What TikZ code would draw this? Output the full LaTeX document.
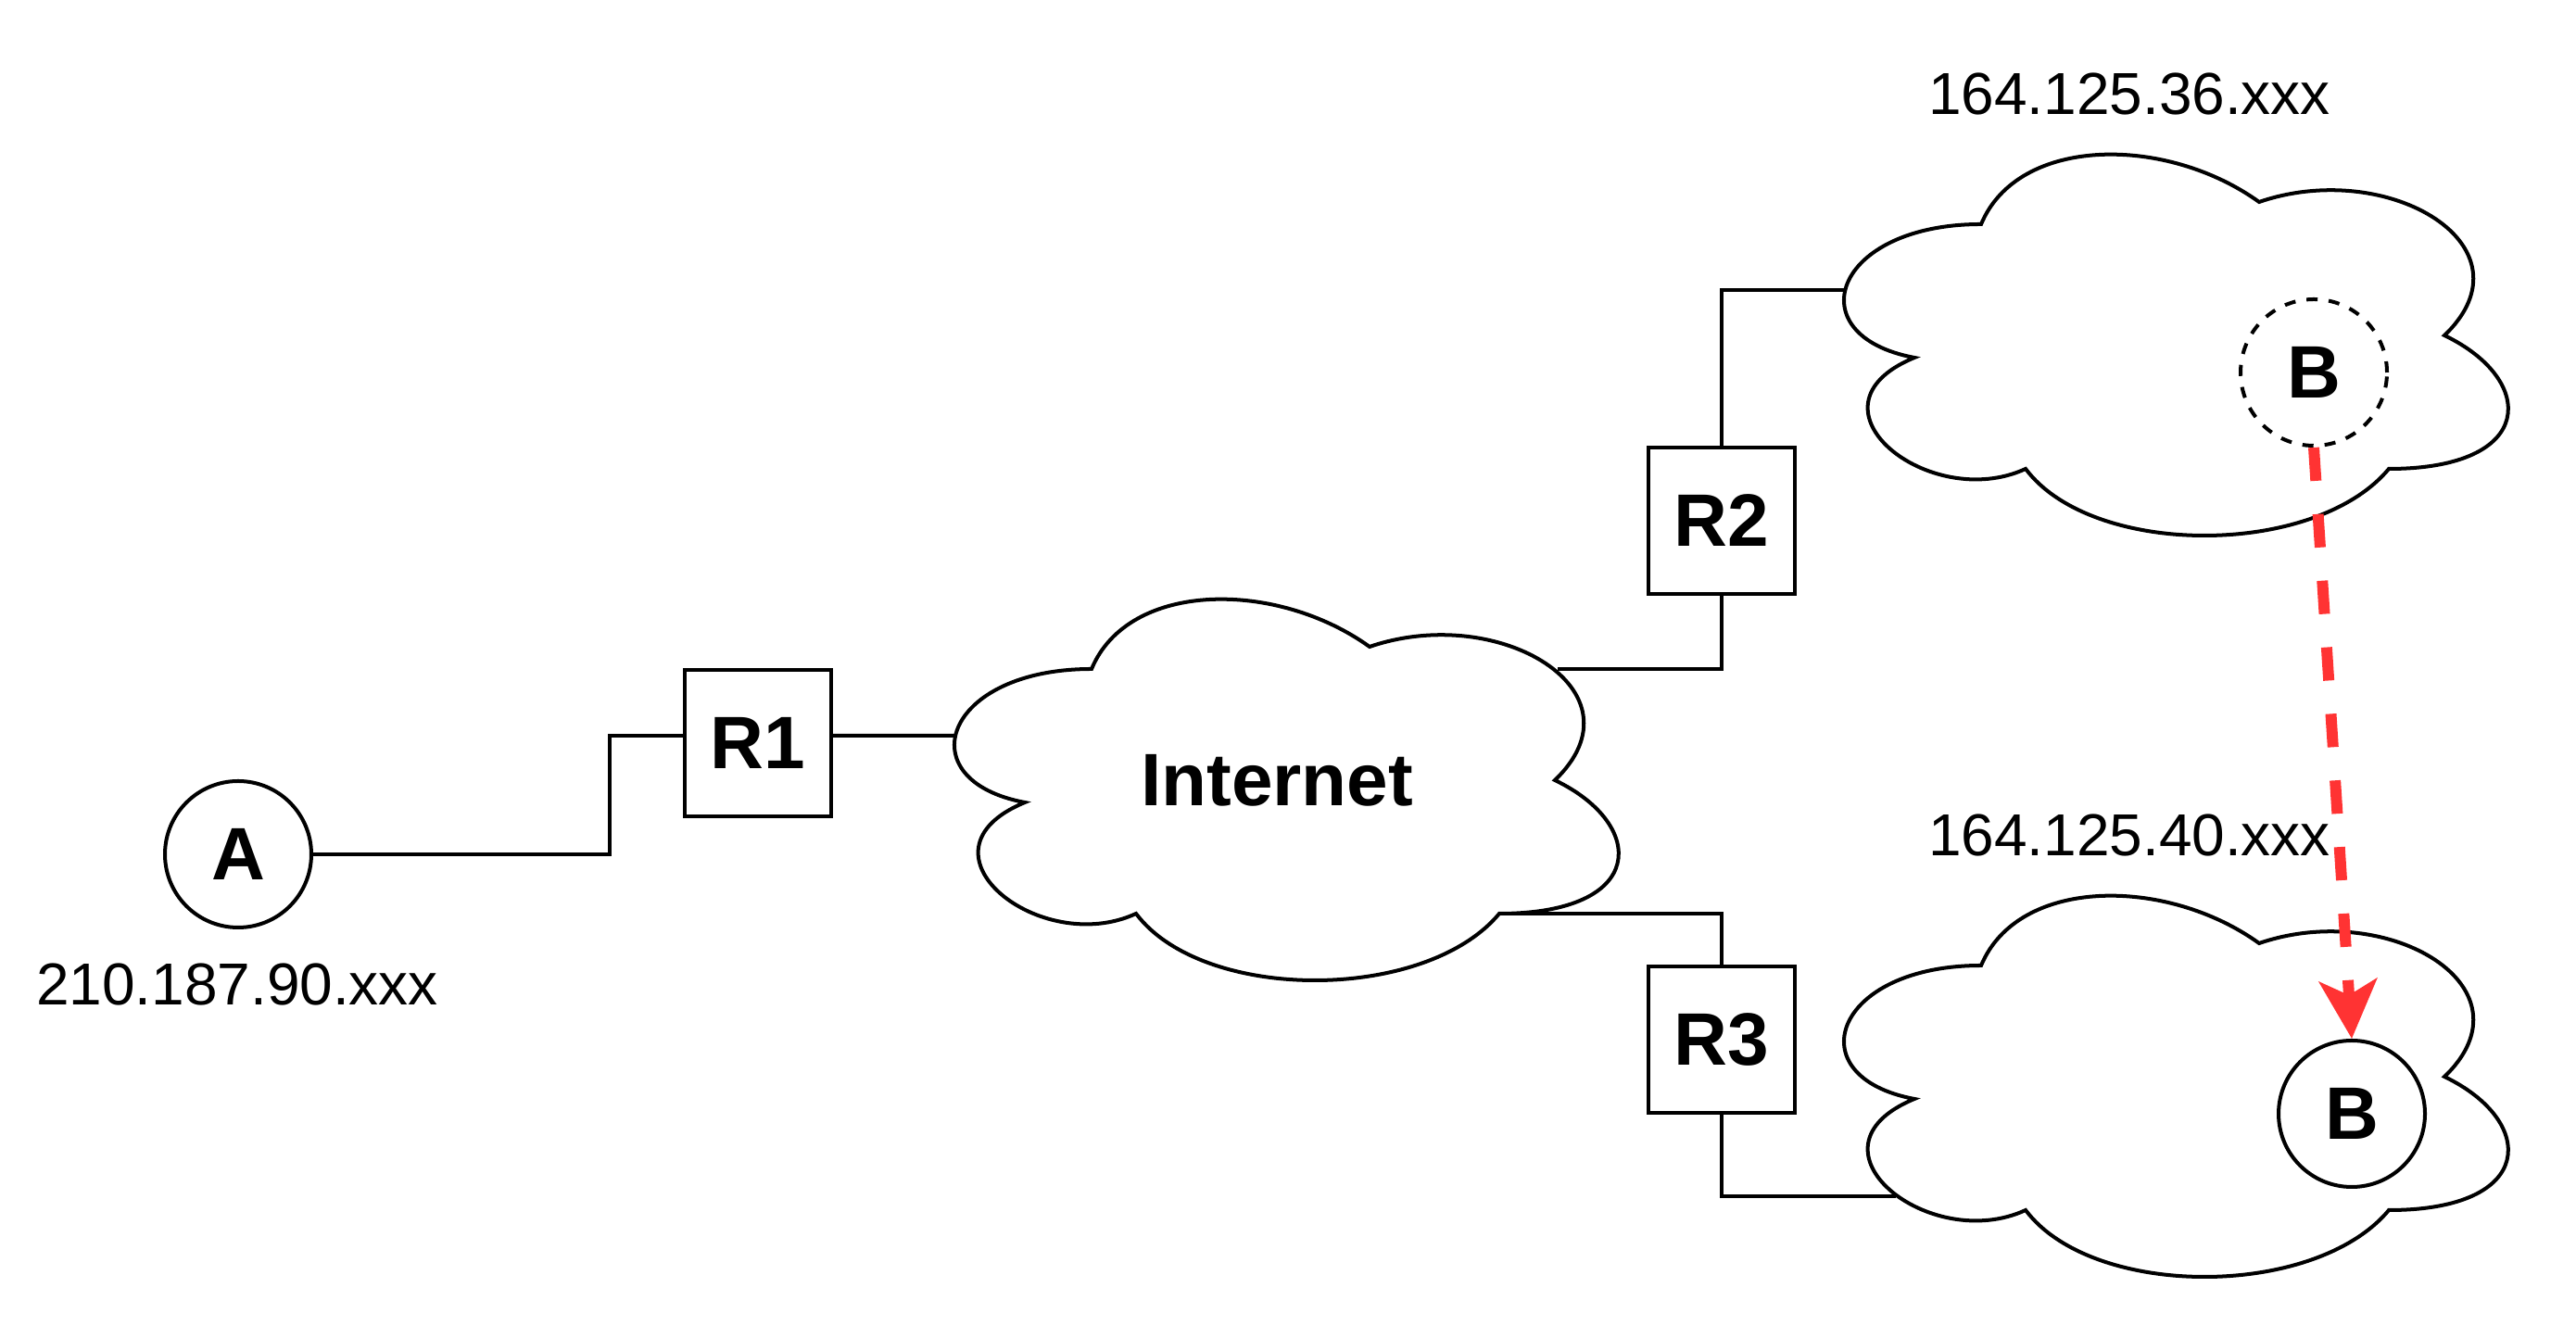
\documentclass[tikz,border=0pt]{standalone}
\usepackage{fontspec}
\setmainfont{Liberation Sans}
\usetikzlibrary{arrows.meta,calc}
\tikzset{>=Stealth}
\definecolor{movered}{HTML}{FF3333}

\tikzset{
  wire/.style={line width=1.14pt},
  host/.style={circle,draw,line width=1.14pt,minimum size=1.58cm,inner sep=0pt,
    font=\fontsize{22.8}{27}\selectfont\bfseries},
  router/.style={rectangle,draw,line width=1.14pt,minimum size=1.58cm,inner sep=0pt,
    font=\fontsize{22.8}{27}\selectfont\bfseries},
  addr/.style={anchor=base,inner sep=0pt,font=\fontsize{18.2}{22}\selectfont},
  moved/.style={draw=movered,line width=3.41pt,dash pattern=on 0.36cm off 0.36cm,
    -{Stealth[length=0.63cm,width=0.62cm,inset=0.16cm]}}
}

% cloud outline, #1 = top left corner
\newcommand{\netcloud}[1]{%
  \begin{scope}[shift={#1},x=8cm,y=-4.8cm]
    \draw[wire,fill=white] (0.25,0.25) .. controls (0.05,0.25) and (0,0.5) .. (0.16,0.55)
      .. controls (0,0.66) and (0.18,0.9) .. (0.31,0.8)
      .. controls (0.4,1) and (0.7,1) .. (0.8,0.8)
      .. controls (1,0.8) and (1,0.6) .. (0.875,0.5)
      .. controls (1,0.3) and (0.8,0.1) .. (0.625,0.2)
      .. controls (0.5,0.05) and (0.3,0.05) .. (0.25,0.25) -- cycle;
  \end{scope}}

\begin{document}
\begin{tikzpicture}
    \useasboundingbox (0,0) rectangle (27.8,14.44);

    \netcloud{(9.78,8.42)}
    \netcloud{(19.38,13.22)}
    \netcloud{(19.38,5.22)}
    \node[font=\fontsize{22.8}{27}\selectfont\bfseries] (Net) at (13.78,6.02) {Internet};

    \node[host] (A) at (2.57,5.22) {A};
    \node[router] (R1) at (8.18,6.42) {R1};
    \node[router] (R2) at (18.58,8.82) {R2};
    \node[router] (R3) at (18.58,3.22) {R3};
    \node[host,dash pattern=on 0.12cm off 0.12cm] (Bprev) at (24.97,10.42) {B};
    \node[host] (B) at (25.38,2.42) {B};

    \node[addr] (ipA) at (2.56,3.59) {210.187.90.xxx};
    \node[addr] (ipB1) at (22.98,13.20) {164.125.36.xxx};
    \node[addr] (ipB2) at (22.98,5.20) {164.125.40.xxx};

    \coordinate (R1in) at ($(R1.west)+(0,0.08)$);
    \coordinate (R1out) at ($(R1.east)+(0,0.08)$);
    \coordinate (NetW) at (10.32,6.50);
    \coordinate (NetNE) at (16.81,7.22);
    \coordinate (NetSE) at (16.18,4.58);
    \coordinate (LanW1) at (19.91,11.31);
    \coordinate (LanW2) at (20.46,1.53);

    \draw[wire] (A) -- ++(4.01,0) |- (R1in);
    \draw[wire] (R1out) -- (NetW);
    \draw[wire] (NetNE) -| (R2);
    \draw[wire] (R2) |- (LanW1);
    \draw[wire] (NetSE) -| (R3);
    \draw[wire] (R3) |- (LanW2);

    \draw[moved] (Bprev.south) -- (B.north);
\end{tikzpicture}
\end{document}
